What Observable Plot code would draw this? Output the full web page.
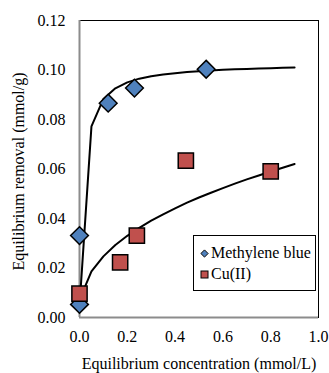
<!DOCTYPE html>
<html><head><meta charset="utf-8">
<script src="https://cdn.jsdelivr.net/npm/d3@7"></script>
<script src="https://cdn.jsdelivr.net/npm/@observablehq/plot@0.6"></script>
<style>
body{margin:0;background:#fff;}
#wrap{position:relative;width:329px;height:373px;font-family:"Liberation Serif","Times New Roman",serif;}
#wrap svg text{font-family:"Liberation Serif","Times New Roman",serif;}
.legend{position:absolute;left:193px;top:235px;width:121px;height:54px;border:1.5px solid #000;background:#fff;font-size:16px;color:#000;}
.item{position:absolute;left:6px;height:18px;line-height:18px;white-space:nowrap;}
.item svg{vertical-align:middle;margin-right:2px;position:relative;top:-1px;}
</style></head><body><div id="wrap"></div>
<script>
// Methylene blue experimental points
const mbConc = [0.0, 0.0, 0.12, 0.23, 0.53];
const mbRemoval = [0.0053, 0.0331, 0.0866, 0.0927, 0.1003];
// Cu(II) experimental points
const cuConc = [0.0, 0.17, 0.24, 0.445, 0.80];
const cuRemoval = [0.0096, 0.0223, 0.0331, 0.0634, 0.0590];
// Fitted curve (Methylene blue)
const mbFitConc = [0.001, 0.05, 0.10, 0.15, 0.20, 0.25, 0.30, 0.35, 0.40, 0.45, 0.50, 0.55, 0.60, 0.65, 0.70, 0.75, 0.80, 0.85, 0.90];
const mbFit = [0.0059, 0.0772, 0.0883, 0.0926, 0.0950, 0.0965, 0.0975, 0.0982, 0.0987, 0.0992, 0.0995, 0.0998, 0.1001, 0.1003, 0.1004, 0.1006, 0.1007, 0.1009, 0.1010];
// Fitted curve (Cu(II))
const cuFitConc = [0.01, 0.05, 0.10, 0.15, 0.20, 0.25, 0.30, 0.35, 0.40, 0.45, 0.50, 0.55, 0.60, 0.65, 0.70, 0.75, 0.80, 0.85, 0.90];
const cuFit = [0.0094, 0.0186, 0.0247, 0.0293, 0.0330, 0.0362, 0.0391, 0.0417, 0.0441, 0.0464, 0.0485, 0.0504, 0.0523, 0.0541, 0.0558, 0.0574, 0.0590, 0.0605, 0.0620];
// Ticks and labels
const xTicks = [0, 0.2, 0.4, 0.6, 0.8, 1.0];
const yTicks = [0, 0.02, 0.04, 0.06, 0.08, 0.10, 0.12];
const xTitle = "Equilibrium concentration (mmol/L)";
const yTitle = "Equilibrium removal (mmol/g)";
const seriesNames = ["Methylene blue", "Cu(II)"];
const seriesColors = ["#4F81BD", "#C0504D"];

const mbData = mbConc.map((c, i) => ({c, q: mbRemoval[i]}));
const cuData = cuConc.map((c, i) => ({c, q: cuRemoval[i]}));
const mbFitData = mbFitConc.map((c, i) => ({c, q: mbFit[i]}));
const cuFitData = cuFitConc.map((c, i) => ({c, q: cuFit[i]}));

const serif = "Liberation Serif";
const chart = Plot.plot({
  width: 329, height: 373,
  marginLeft: 79, marginRight: 11, marginTop: 20, marginBottom: 56,
  style: {fontFamily: serif, fontSize: "16px", background: "white", color: "black", overflow: "visible"},
  x: {domain: [0, 1]},
  y: {domain: [0, 0.12]},
  marks: [
    Plot.frame({stroke: "black", strokeWidth: 1}),
    Plot.ruleX([0], {stroke: "#8c8c8c", strokeWidth: 2}),
    Plot.ruleY([0], {stroke: "#8c8c8c", strokeWidth: 2}),
    Plot.axisX({ticks: xTicks, tickSize: 0, tickPadding: 13, label: null, tickFormat: d => d.toFixed(1), fontSize: 16, fontFamily: serif}),
    Plot.axisY({ticks: yTicks, tickSize: 0, tickPadding: 14, label: null, tickFormat: d => d.toFixed(2), fontSize: 16, fontFamily: serif}),
    Plot.line(mbFitData, {x: "c", y: "q", stroke: "black", strokeWidth: 2}),
    Plot.line(cuFitData, {x: "c", y: "q", stroke: "black", strokeWidth: 2}),
    Plot.dot(mbData, {x: "c", y: "q", symbol: "diamond2", r: 8, fill: seriesColors[0], stroke: "black", strokeWidth: 1.5}),
    Plot.dot(cuData, {x: "c", y: "q", symbol: "square", r: 8.6, fill: seriesColors[1], stroke: "black", strokeWidth: 1.5}),
    Plot.text([xTitle], {text: d => d, frameAnchor: "bottom", textAnchor: "middle", lineAnchor: "middle", dy: 46, fontSize: 16, fontFamily: serif}),
    Plot.text([yTitle], {text: d => d, frameAnchor: "left", textAnchor: "middle", lineAnchor: "middle", rotate: -90, dx: -61, dy: 2.5, fontSize: 16, fontFamily: serif})
  ]
});
const wrap = document.getElementById("wrap");
wrap.appendChild(chart);

const legend = document.createElement("div");
legend.className = "legend";
const symbols = [
  `<svg width="9" height="9" viewBox="-4.5 -4.5 9 9"><path d="M0,-3.6L3.6,0L0,3.6L-3.6,0Z" fill="${seriesColors[0]}" stroke="black" stroke-width="1"/></svg>`,
  `<svg width="9" height="9" viewBox="-4.5 -4.5 9 9"><rect x="-3.5" y="-3.5" width="7" height="7" fill="${seriesColors[1]}" stroke="black" stroke-width="1"/></svg>`
];
seriesNames.forEach((name, i) => {
  const it = document.createElement("div");
  it.className = "item";
  it.style.top = (i === 0 ? 8 : 29) + "px";
  it.innerHTML = symbols[i] + name;
  legend.appendChild(it);
});
wrap.appendChild(legend);
</script>
</body></html>
